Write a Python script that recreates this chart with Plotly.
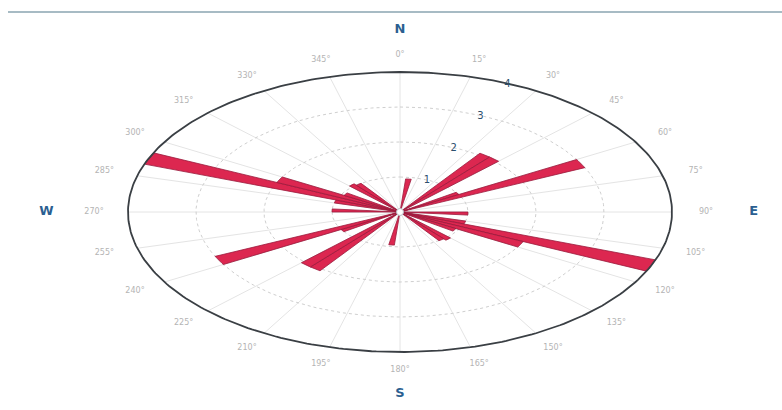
import numpy as np
import plotly.graph_objects as go

# ---- data (half-circle bins, mirrored for the bidirectional rose) ----
bin_start_deg = [5, 35, 40, 55, 60, 90, 105, 110, 115, 120, 135, 140]
bin_values    = [0.95, 2.05, 2.05, 1.0, 3.0, 1.0, 1.0, 4.0, 2.0, 0.95, 1.05, 1.0]
bin_width_deg = 5
radial_ticks = [1, 2, 3, 4]
angle_ticks = list(range(0, 360, 15))
compass = ["N", "E", "S", "W"]
compass_deg = [0, 90, 180, 270]

R_MAX = 4
LABEL_R = 4.5
COMPASS_R = 5.2

fig = go.Figure()

def pol(r, deg):
    t = np.radians(deg)
    return r * np.sin(t), r * np.cos(t)

# spokes
sx, sy = [], []
for a in angle_ticks:
    x, y = pol(R_MAX, a)
    sx += [0, x, None]
    sy += [0, y, None]
fig.add_trace(go.Scatter(x=sx, y=sy, mode="lines",
                         line=dict(color="#e4e4e4", width=1), hoverinfo="skip"))

# rings
th = np.linspace(0, 360, 361)
for r in radial_ticks[:-1]:
    x, y = pol(r, th)
    fig.add_trace(go.Scatter(x=x, y=y, mode="lines",
                             line=dict(color="#cfcfcf", width=1, dash="dot"),
                             hoverinfo="skip"))

# petals
for start, v in zip(bin_start_deg, bin_values):
    for off in (0, 180):
        arc = np.linspace(start + off, start + off + bin_width_deg, 8)
        ax, ay = pol(v, arc)
        px = [0] + list(ax) + [0]
        py = [0] + list(ay) + [0]
        fig.add_trace(go.Scatter(x=px, y=py, mode="lines", fill="toself",
                                 fillcolor="#dc2750",
                                 line=dict(color="#9b1b3c", width=0.8),
                                 hoverinfo="skip"))

# outer ring
x, y = pol(R_MAX, th)
fig.add_trace(go.Scatter(x=x, y=y, mode="lines",
                         line=dict(color="#3a3f44", width=1.8), hoverinfo="skip"))

# centre dot
fig.add_trace(go.Scatter(x=[0], y=[0], mode="markers",
                         marker=dict(color="white", size=7,
                                     line=dict(color="#b8c0c8", width=1)),
                         hoverinfo="skip"))

# radial labels
lx, ly = pol(np.array(radial_ticks, dtype=float) * 0.99, 23.5)
fig.add_trace(go.Scatter(x=lx, y=ly, mode="text",
                         text=[str(t) for t in radial_ticks],
                         textfont=dict(family="DejaVu Sans", size=10, color="#2b4f6e"),
                         hoverinfo="skip"))

# angle labels
ax, ay = pol(LABEL_R, np.array(angle_ticks, dtype=float))
fig.add_trace(go.Scatter(x=ax, y=ay, mode="text",
                         text=[f"{a}°" for a in angle_ticks],
                         textfont=dict(family="DejaVu Sans", size=8, color="#b4b4b4"),
                         hoverinfo="skip"))

# compass letters
cx, cy = pol(COMPASS_R, np.array(compass_deg, dtype=float))
fig.add_trace(go.Scatter(x=cx, y=cy, mode="text", text=compass,
                         textfont=dict(family="DejaVu Sans", size=13, color="#2b5f91",
                                       weight="bold"),
                         hoverinfo="skip"))

W, H = 782, 410
cx_px, cy_px = 400, 212
px_x = 272 / R_MAX
px_y = 140 / R_MAX

fig.update_layout(
    width=W, height=H,
    margin=dict(l=0, r=0, t=0, b=0),
    paper_bgcolor="white", plot_bgcolor="white",
    showlegend=False,
    xaxis=dict(range=[-cx_px / px_x, (W - cx_px) / px_x], visible=False, fixedrange=True),
    yaxis=dict(range=[-(H - cy_px) / px_y, cy_px / px_y], visible=False, fixedrange=True),
    shapes=[dict(type="line", xref="paper", yref="paper",
                 x0=8 / W, x1=1, y0=1 - 12 / H, y1=1 - 12 / H,
                 line=dict(color="#8aa4b0", width=1.5))],
)

fig.write_html("out.html")
